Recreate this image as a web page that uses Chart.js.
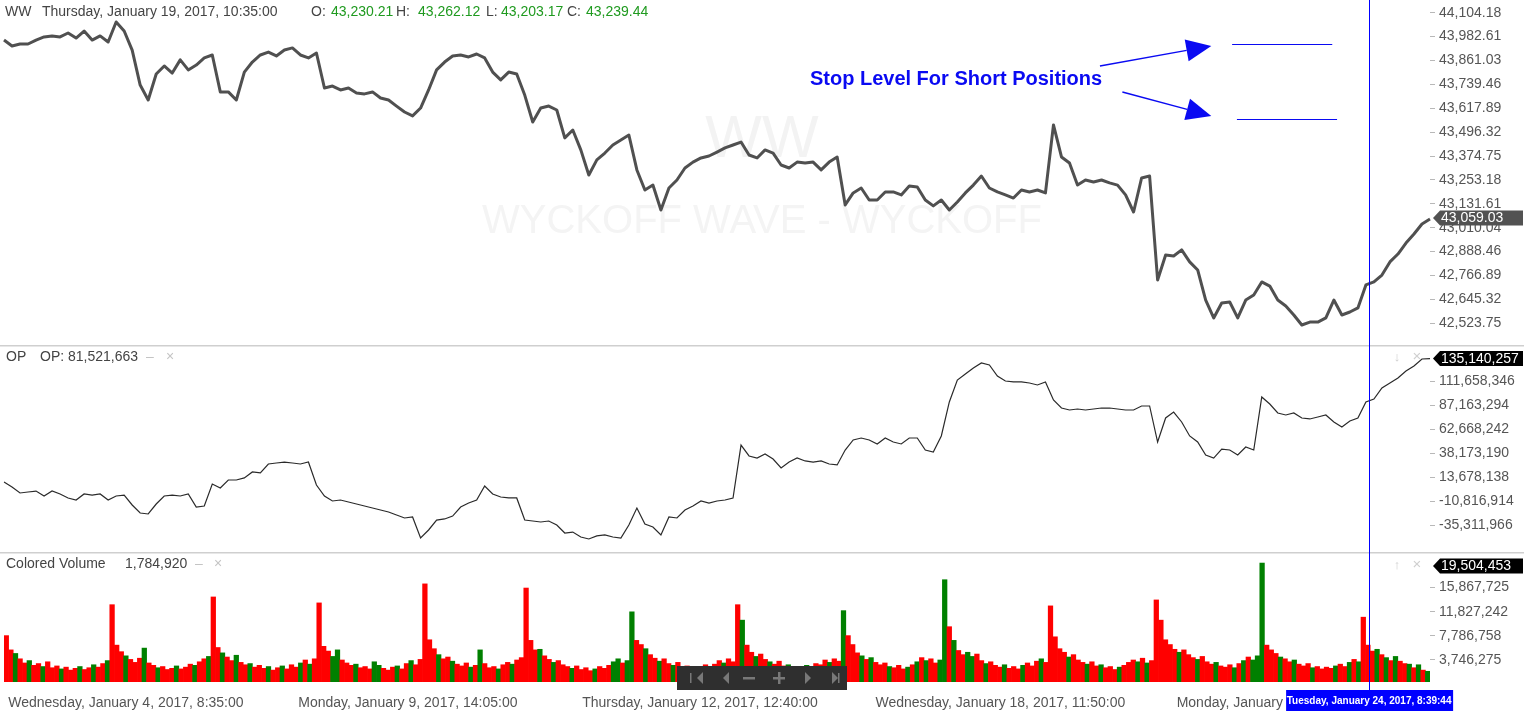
<!DOCTYPE html>
<html>
<head>
<meta charset="utf-8">
<script src="https://cdn.jsdelivr.net/npm/chart.js@4.4.1/dist/chart.umd.min.js"></script>
<style>
  html, body { margin: 0; padding: 0; background: #fff; }
  #wrap { position: relative; width: 1524px; height: 713px; overflow: hidden; }
  #wrap canvas { position: absolute; left: 0; }
</style>
</head>
<body>
<div id="wrap">
  <canvas id="priceChart" width="1524" height="345" style="top:0px"></canvas>
  <canvas id="opChart" width="1524" height="207" style="top:345px"></canvas>
  <canvas id="volChart" width="1524" height="161" style="top:552px"></canvas>
</div>
<script>
// WW close, one reading every ~8px of the time axis
const priceClose = [
  43965, 43935, 43945, 43945, 43965, 43981, 43986, 43981, 44001, 43975,
  44011, 43965, 43986, 43955, 44057, 44011, 43914, 43736, 43660, 43792,
  43833, 43797, 43864, 43813, 43838, 43874, 43889, 43701, 43701, 43660,
  43802, 43853, 43889, 43904, 43884, 43914, 43925, 43889, 43874, 43899,
  43721, 43731, 43711, 43721, 43696, 43691, 43701, 43670, 43660, 43629,
  43599, 43579, 43619, 43711, 43813, 43853, 43884, 43889, 43879, 43894,
  43874, 43802, 43762, 43802, 43792, 43685, 43548, 43619, 43629, 43609,
  43467, 43507, 43406, 43278, 43355, 43390, 43431, 43456, 43482, 43304,
  43202, 43227, 43100, 43212, 43253, 43314, 43344, 43365, 43375, 43395,
  43416, 43431, 43446, 43380, 43365, 43406, 43390, 43329, 43314, 43344,
  43339, 43344, 43304, 43344, 43370, 43126, 43187, 43212, 43151, 43151,
  43192, 43192, 43177, 43222, 43217, 43151, 43121, 43151, 43100, 43141,
  43187, 43227, 43273, 43212, 43192, 43177, 43161, 43202, 43192, 43202,
  43187, 43533, 43370, 43339, 43227, 43253, 43243, 43253, 43238, 43227,
  43177, 43090, 43263, 43273, 42744, 42871, 42866, 42897, 42836, 42795,
  42642, 42551, 42627, 42632, 42551, 42642, 42668, 42734, 42713, 42642,
  42612, 42566, 42515, 42530, 42530, 42551, 42642, 42566, 42581, 42602,
  42719, 42734, 42769, 42836, 42876, 42932, 42978, 43029, 43054
];

// OP indicator, millions, same sampling as the price
const opValues = [
  8.8, 3.6, -2.5, -1.5, -0.5, -5.6, -0.5, -3.5, -7.6, -9.7,
  -3.5, -4.6, -3.5, -9.7, -5.6, -4.6, -14.8, -23.0, -24.0, -13.8,
  -5.6, -4.6, -5.6, -3.5, -16.9, -15.8, 6.7, 2.6, 10.8, 10.8,
  12.9, 19.0, 18.0, 27.2, 28.2, 29.2, 28.2, 27.2, 29.2, 5.7,
  -5.6, -10.7, -9.7, -11.7, -13.8, -15.8, -17.9, -19.9, -22.0, -25.0,
  -28.1, -27.1, -48.6, -40.4, -30.2, -29.1, -26.1, -16.9, -12.8, -9.7,
  4.7, -3.5, -6.6, -7.6, -7.6, -30.2, -31.2, -32.2, -31.2, -35.3,
  -43.5, -42.5, -47.6, -49.6, -46.5, -45.5, -47.6, -48.6, -35.3, -17.9,
  -34.3, -37.3, -45.5, -27.1, -28.1, -19.9, -15.8, -10.7, -12.8, -10.7,
  -9.7, -7.6, 46.6, 35.4, 33.3, 37.4, 32.3, 23.1, 29.2, 33.3,
  30.3, 29.2, 30.3, 27.2, 26.2, 41.5, 51.8, 53.8, 51.8, 47.7,
  53.8, 49.7, 47.7, 53.8, 53.8, 41.5, 39.5, 55.9, 90.7, 113.2,
  119.3, 125.5, 130.6, 128.6, 117.3, 112.2, 111.2, 111.2, 110.1, 108.1,
  111.2, 92.7, 84.5, 82.5, 83.5, 82.5, 83.5, 84.5, 84.5, 83.5,
  82.5, 82.5, 86.6, 86.6, 49.7, 74.3, 80.4, 70.2, 55.9, 49.7,
  36.4, 33.3, 42.5, 41.5, 36.4, 44.6, 41.5, 95.8, 88.6, 79.4,
  77.4, 79.4, 74.3, 73.3, 75.3, 77.4, 70.2, 65.1, 71.2, 74.3,
  90.7, 93.7, 105.0, 110.1, 115.3, 122.4, 127.5, 134.7, 135.1
];

// Colored volume, millions, one bar per group of bars, with its direction
const volume = [
  7.8, 5.4, 4.8, 3.9, 3.2, 3.6, 2.8, 3.1, 2.6, 3.4, 2.4, 2.7, 2.2, 2.5, 2.0, 2.3, 2.6, 2.1, 2.4, 2.9, 2.5, 3.1, 3.6,
  13.0, 6.2, 5.1, 4.4, 3.8, 3.3, 4.0, 5.7, 3.2, 2.8, 2.4, 2.6, 2.1, 2.3, 2.7, 2.2, 2.5, 3.0, 2.8, 3.4, 3.9, 4.3,
  14.3, 5.8, 4.9, 4.2, 3.6, 4.5, 3.3, 2.9, 3.1, 2.5, 2.8, 2.3, 2.6, 2.0, 2.4, 2.7, 2.2, 2.9, 2.5, 3.2, 3.7, 3.0, 3.9,
  13.3, 6.0, 5.2, 4.3, 5.4, 3.7, 3.2, 2.8, 3.0, 2.4, 2.6, 2.2, 3.4, 2.8, 2.3, 2.0, 2.5, 2.7, 2.2, 3.1, 3.6, 2.9, 3.8,
  16.5, 7.1, 5.6, 4.6, 3.9, 4.2, 3.5, 3.0, 2.7, 3.2, 2.5, 2.8, 5.4, 3.1, 2.4, 2.6, 2.2, 2.9, 3.3, 3.0, 3.7, 4.1,
  15.8, 7.0, 5.4, 5.5, 4.4, 3.8, 3.3, 3.6, 2.9, 2.6, 2.3, 2.7, 2.1, 2.4, 1.9, 2.2, 2.6, 2.3, 2.8, 3.4, 3.9, 3.2, 3.6,
  11.8, 7.0, 6.3, 5.6, 4.6, 4.0, 3.5, 3.9, 3.1, 2.8, 3.3, 2.5, 2.7, 2.2, 2.6, 2.3, 2.9, 2.5, 3.0, 3.6, 3.2, 3.9, 3.4,
  13.0, 10.4, 6.2, 5.0, 4.3, 4.7, 3.8, 3.4, 3.0, 3.5, 2.7, 2.9, 2.4, 2.6, 2.2, 2.8, 2.5, 3.1, 2.9, 3.7, 3.3, 3.9, 3.5,
  12.0, 7.8, 6.3, 4.9, 4.4, 3.8, 4.1, 3.3, 2.9, 3.2, 2.6, 2.4, 2.8, 2.2, 2.5, 2.9, 3.4, 4.1, 3.6, 3.9, 3.2, 3.7,
  17.2, 9.3, 7.0, 5.3, 4.6, 5.0, 4.3, 4.7, 3.6, 3.1, 3.4, 2.8, 2.5, 2.9, 2.3, 2.6, 2.2, 2.8, 3.2, 2.7, 3.5, 3.9, 3.3,
  12.8, 7.6, 5.6, 5.0, 4.2, 4.6, 3.7, 3.3, 3.0, 3.4, 2.7, 2.9, 2.4, 2.6, 2.1, 2.5, 2.8, 3.3, 3.7, 3.4, 4.0, 3.2, 3.6,
  13.8, 10.4, 7.1, 6.3, 5.5, 5.0, 5.4, 4.6, 4.1, 3.8, 4.3, 3.4, 3.0, 3.3, 2.7, 2.5, 2.9, 2.4, 3.1, 3.6, 4.2, 3.7, 4.4,
  20.0, 6.2, 5.4, 4.8, 4.2, 3.9, 3.4, 3.7, 3.0, 2.7, 3.1, 2.4, 2.6, 2.2, 2.5, 2.3, 2.7, 3.0, 2.6, 3.3, 3.8, 3.4,
  10.9, 6.2, 5.2, 5.5, 4.6, 4.1, 3.6, 4.3, 3.5, 3.1, 3.0, 2.4, 2.9, 2.0, 1.8
];
const volumeDir = (
  'rrgrrgrrgrrrgrrrgrrgrrg' + 'rrrgrrrgrrgrrrgrrrgrrg' + 'rrgrrgrrgrrrgrrgrrrgrgr' +
  'rrrggrrrgrrrggrrrgrrgrr' + 'rrrgrrgrrrgrgrrrgrrgrr' + 'rrrgrrgrrrgrrrrgrrrggrg' +
  'grrgrrgrrgrrrgrrrgrrgrr' + 'rgrrgrrgrrrgrrrgrrrrgrr' + 'grrrgrgrrrgrrrgrgrgrrg' +
  'grgrrggrrgrrrgrrrgrrrgr' + 'rrrrgrrrgrrgrrrgrrrgrgr' + 'rrrrrgrrrgrrrgrrrgrgrgg' +
  'grrrgrrgrrrgrrrrgrrgrg' + 'rrrgrgrgrrgrgrg'
).split('');

// axis ticks
const priceTicks = [44104.18, 43982.61, 43861.03, 43739.46, 43617.89, 43496.32, 43374.75,
  43253.18, 43131.61, 43010.04, 42888.46, 42766.89, 42645.32, 42523.75];
const priceTickLabels = ['44,104.18', '43,982.61', '43,861.03', '43,739.46', '43,617.89', '43,496.32',
  '43,374.75', '43,253.18', '43,131.61', '43,010.04', '42,888.46', '42,766.89', '42,645.32', '42,523.75'];
const opTicks = [111658346, 87163294, 62668242, 38173190, 13678138, -10816914, -35311966];
const opTickLabels = ['111,658,346', '87,163,294', '62,668,242', '38,173,190', '13,678,138', '-10,816,914', '-35,311,966'];
const volTicks = [15867725, 11827242, 7786758, 3746275];
const volTickLabels = ['15,867,725', '11,827,242', '7,786,758', '3,746,275'];

// time axis labels, placed at volume bar positions
const timeTickBars = [26, 87.3, 150.8, 216.1, 279.1];
const timeTickLabels = ['Wednesday, January 4, 2017, 8:35:00', 'Monday, January 9, 2017, 14:05:00',
  'Thursday, January 12, 2017, 12:40:00', 'Wednesday, January 18, 2017, 11:50:00', 'Monday, January 23, 2017, 10:35:00'];

// last values and crosshair
const lastPrice = 43059.03, lastPriceText = '43,059.03';
const lastOp = 135140257, lastOpText = '135,140,257';
const volTop = 19504453, volTopText = '19,504,453';
const crosshairBar = 170.4;
const crosshairText = 'Tuesday, January 24, 2017, 8:39:44';

// drawn stop levels (price) and the note pointing at them
const stopLevels = [43945, 43561];
const stopSpans = [[153.3, 165.8], [153.9, 166.4]];
const arrowTails = [[136.8, 43833], [139.6, 43701]];
const arrowTips = [[150.7, 43935], [150.7, 43579]];
const noteAnchor = [100.6, 43762];
const noteText = 'Stop Level For Short Positions';

const FONT = "'Liberation Sans', Arial, sans-serif";
const BLUE = '#0a0af2';

function txt(ctx, s, x, y, color, size, weight, align) {
  ctx.save();
  ctx.font = (weight || 'normal') + ' ' + size + 'px ' + FONT;
  ctx.fillStyle = color;
  ctx.textAlign = align || 'left';
  ctx.textBaseline = 'middle';
  ctx.fillText(s, x, y);
  ctx.restore();
}

function badge(ctx, y, bg, text) {
  const x = 1433, w = 90, h = 15;
  ctx.save();
  ctx.fillStyle = bg;
  ctx.beginPath();
  ctx.moveTo(x, y);
  ctx.lineTo(x + 7, y - h / 2);
  ctx.lineTo(x + w, y - h / 2);
  ctx.lineTo(x + w, y + h / 2);
  ctx.lineTo(x + 7, y + h / 2);
  ctx.closePath();
  ctx.fill();
  ctx.restore();
  txt(ctx, text, x + 8, y + 0.5, '#fff', 14);
}

function separator(ctx) {
  ctx.save();
  ctx.fillStyle = '#cfcfcf';
  ctx.fillRect(0, 0, 1524, 1.5);
  ctx.restore();
}

function vline(ctx, x, y1, y2) {
  ctx.save();
  ctx.fillStyle = '#0000ff';
  ctx.fillRect(Math.round(x), y1, 1, y2 - y1);
  ctx.restore();
}

function arrow(ctx, x1, y1, x2, y2) {
  const a = Math.atan2(y2 - y1, x2 - x1);
  const len = 25, hw = 11;
  const bx = x2 - len * Math.cos(a), by = y2 - len * Math.sin(a);
  ctx.beginPath();
  ctx.moveTo(x1, y1);
  ctx.lineTo(bx, by);
  ctx.stroke();
  ctx.beginPath();
  ctx.moveTo(x2, y2);
  ctx.lineTo(bx + hw * Math.sin(a), by - hw * Math.cos(a));
  ctx.lineTo(bx - hw * Math.sin(a), by + hw * Math.cos(a));
  ctx.closePath();
  ctx.fill();
}

function tri(ctx, x, y, dir) {
  ctx.beginPath();
  ctx.moveTo(x + (dir < 0 ? 0 : 6), y);
  ctx.lineTo(x + (dir < 0 ? 6 : 0), y - 6);
  ctx.lineTo(x + (dir < 0 ? 6 : 0), y + 6);
  ctx.closePath();
  ctx.fill();
}

function rightAxis(min, max, values, labels) {
  return {
    position: 'right',
    min: min,
    max: max,
    afterFit: s => { s.width = 94; s.paddingTop = 0; s.paddingBottom = 0; },
    afterBuildTicks: s => { s.ticks = values.map(v => ({ value: v })); },
    ticks: {
      autoSkip: false,
      padding: 4,
      color: '#555',
      font: { family: FONT, size: 14 },
      callback: (v, i) => labels[i]
    },
    grid: { drawOnChartArea: false, tickLength: 5, color: '#b8b8b8' },
    border: { display: false }
  };
}

function baseOptions(yAxis, xAxis, bottomPad) {
  return {
    responsive: false,
    animation: false,
    devicePixelRatio: 1,
    events: [],
    layout: { padding: { left: 4, right: 0, top: 0, bottom: bottomPad || 0 } },
    plugins: { legend: { display: false }, tooltip: { enabled: false } },
    scales: { x: xAxis, y: yAxis }
  };
}

const pricePanel = {
  id: 'pricePanel',
  beforeDatasetsDraw(chart) {
    const ctx = chart.ctx;
    txt(ctx, 'WW', 762, 140, '#f3f3f3', 60, 'normal', 'center');
    txt(ctx, 'WYCKOFF WAVE - WYCKOFF', 762, 222, '#f4f4f4', 40, 'normal', 'center');
  },
  afterDraw(chart) {
    const ctx = chart.ctx, xs = chart.scales.x, ys = chart.scales.y;
    // header
    txt(ctx, 'WW', 5, 12, '#444', 14);
    txt(ctx, 'Thursday, January 19, 2017, 10:35:00', 42, 12, '#444', 14);
    const green = '#1f9a1f';
    txt(ctx, 'O:', 311, 12, '#444', 14); txt(ctx, '43,230.21', 331, 12, green, 14);
    txt(ctx, 'H:', 396, 12, '#444', 14); txt(ctx, '43,262.12', 418, 12, green, 14);
    txt(ctx, 'L:', 486, 12, '#444', 14); txt(ctx, '43,203.17', 501, 12, green, 14);
    txt(ctx, 'C:', 567, 12, '#444', 14); txt(ctx, '43,239.44', 586, 12, green, 14);

    // stop levels and note
    ctx.save();
    ctx.strokeStyle = BLUE;
    ctx.fillStyle = BLUE;
    ctx.lineWidth = 1;
    stopLevels.forEach((lvl, i) => {
      const y = Math.round(ys.getPixelForValue(lvl)) + 0.5;
      ctx.beginPath();
      ctx.moveTo(xs.getPixelForValue(stopSpans[i][0]), y);
      ctx.lineTo(xs.getPixelForValue(stopSpans[i][1]), y);
      ctx.stroke();
    });
    ctx.lineWidth = 1.5;
    arrowTails.forEach((t, i) => {
      arrow(ctx, xs.getPixelForValue(t[0]), ys.getPixelForValue(t[1]),
        xs.getPixelForValue(arrowTips[i][0]), ys.getPixelForValue(arrowTips[i][1]));
    });
    ctx.restore();
    txt(ctx, noteText, xs.getPixelForValue(noteAnchor[0]), ys.getPixelForValue(noteAnchor[1]), BLUE, 20, 'bold');

    // crosshair and last price
    vline(ctx, xs.getPixelForValue(crosshairBar), 0, chart.height);
    badge(ctx, ys.getPixelForValue(lastPrice), '#525252', lastPriceText);
  }
};

const opPanel = {
  id: 'opPanel',
  afterDraw(chart) {
    const ctx = chart.ctx, xs = chart.scales.x, ys = chart.scales.y;
    separator(ctx);
    txt(ctx, 'OP', 6, 12, '#444', 14);
    txt(ctx, 'OP: 81,521,663', 40, 12, '#444', 14);
    txt(ctx, '\u2013', 146, 12, '#c4c4c4', 14);
    txt(ctx, '\u00d7', 166, 12, '#c4c4c4', 14);
    txt(ctx, '\u2193', 1397, 12, '#cfcfcf', 13, 'normal', 'center');
    txt(ctx, '\u00d7', 1417, 12, '#cfcfcf', 15, 'normal', 'center');
    vline(ctx, xs.getPixelForValue(crosshairBar), 0, chart.height);
    badge(ctx, ys.getPixelForValue(lastOp), '#000', lastOpText);
  }
};

const volPanel = {
  id: 'volPanel',
  afterDraw(chart) {
    const ctx = chart.ctx, xs = chart.scales.x, ys = chart.scales.y;
    separator(ctx);
    txt(ctx, 'Colored Volume', 6, 12, '#444', 14);
    txt(ctx, '1,784,920', 125, 12, '#444', 14);
    txt(ctx, '\u2013', 195, 12, '#c4c4c4', 14);
    txt(ctx, '\u00d7', 214, 12, '#c4c4c4', 14);
    txt(ctx, '\u2191', 1397, 13, '#cfcfcf', 13, 'normal', 'center');
    txt(ctx, '\u00d7', 1417, 13, '#cfcfcf', 15, 'normal', 'center');
    badge(ctx, ys.getPixelForValue(volTop), '#000', volTopText);

    // time labels
    timeTickBars.forEach((b, i) => {
      txt(ctx, timeTickLabels[i], xs.getPixelForValue(b), 151, '#555', 14, 'normal', 'center');
    });

    // navigation strip
    ctx.save();
    ctx.fillStyle = '#2f2f2f';
    ctx.fillRect(677, 114, 170, 24);
    ctx.fillStyle = '#787878';
    const cy = 126;
    ctx.fillRect(690, cy - 5, 1.5, 10);
    tri(ctx, 697, cy, -1); tri(ctx, 723, cy, -1);
    ctx.fillRect(743, cy - 1, 12, 2.5);
    ctx.fillRect(773, cy - 1, 12, 2.5); ctx.fillRect(778, cy - 6, 2.5, 12);
    tri(ctx, 805, cy, 1); tri(ctx, 832, cy, 1);
    ctx.fillRect(838, cy - 5, 1.5, 10);
    ctx.restore();

    // crosshair down to its time badge
    const cx = priceChart.scales.x.getPixelForValue(crosshairBar);
    vline(ctx, cx, 0, 138);
    ctx.save();
    ctx.fillStyle = '#0000ff';
    ctx.fillRect(cx - 83, 138, 167, 21);
    ctx.restore();
    txt(ctx, crosshairText, cx, 149, '#fff', 10, 'bold', 'center');
  }
};

const priceChart = new Chart(document.getElementById('priceChart'), {
  type: 'line',
  data: {
    labels: priceClose.map((_, i) => i),
    datasets: [{
      data: priceClose,
      borderColor: '#505050',
      borderWidth: 3,
      pointRadius: 0,
      tension: 0,
      borderJoinStyle: 'round'
    }]
  },
  options: baseOptions(rightAxis(42413.2, 44168.8, priceTicks, priceTickLabels),
    { type: 'category', display: false, offset: false }),
  plugins: [pricePanel]
});

const opChart = new Chart(document.getElementById('opChart'), {
  type: 'line',
  data: {
    labels: opValues.map((_, i) => i),
    datasets: [{
      data: opValues.map(v => v * 1e6),
      borderColor: '#2a2a2a',
      borderWidth: 1.2,
      pointRadius: 0,
      tension: 0
    }]
  },
  options: baseOptions(rightAxis(-62930000, 149040000, opTicks, opTickLabels),
    { type: 'category', display: false, offset: false }),
  plugins: [opPanel]
});

const volChart = new Chart(document.getElementById('volChart'), {
  type: 'bar',
  data: {
    labels: volume.map((_, i) => i),
    datasets: [{
      data: volume.map(v => v * 1e6),
      backgroundColor: volumeDir.map(d => d === 'g' ? '#008000' : '#ff0000'),
      borderWidth: 0,
      barPercentage: 1,
      categoryPercentage: 1
    }]
  },
  options: baseOptions(rightAxis(0, 21860000, volTicks, volTickLabels),
    { type: 'category', display: false }, 31),
  plugins: [volPanel]
});
</script>
</body>
</html>
